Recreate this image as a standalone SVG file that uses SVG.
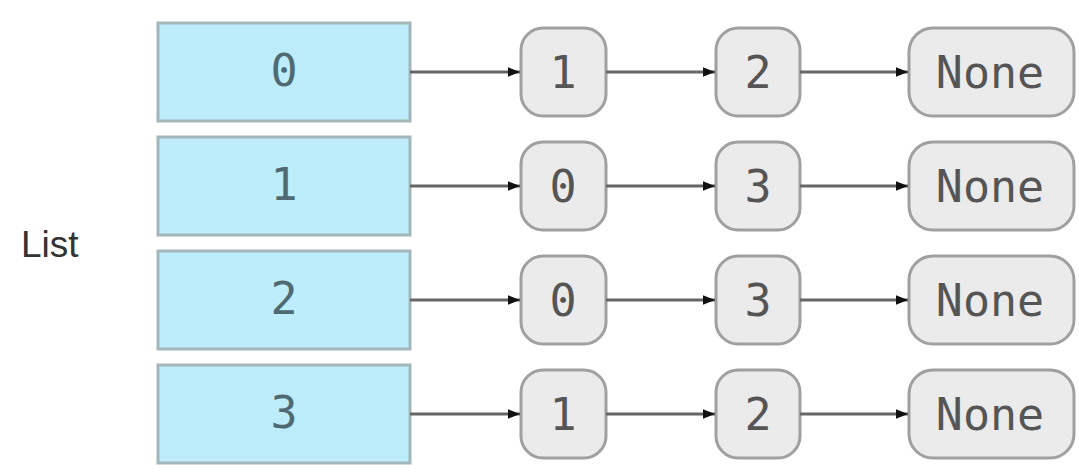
<svg xmlns="http://www.w3.org/2000/svg" width="1079" height="472" viewBox="0 0 1079 472">
<style>
.slot{fill:#bdedfb;stroke:#a3b6ba;stroke-width:3}
.node{fill:#ebebeb;stroke:#a0a0a0;stroke-width:3}
.st{font-family:"DejaVu Sans Mono",monospace;font-size:45px;fill:#4f6a72;text-anchor:middle;dominant-baseline:central}
.nt{font-family:"DejaVu Sans Mono",monospace;font-size:45px;fill:#555;text-anchor:middle;dominant-baseline:central}
.lbl{font-family:"Liberation Sans",Arial,sans-serif;font-size:37px;fill:#333}
.edge{stroke:#666;stroke-width:3;fill:none}
</style>
<defs>
<marker id="ah" viewBox="0 0 10 10" refX="10" refY="5" markerWidth="5" markerHeight="4" orient="auto" markerUnits="strokeWidth"><path d="M0,1 L10,5 L0,9 z" fill="#111"/></marker>
</defs>
<text class="lbl" x="21" y="257">List</text>
<g id="slot0"><rect class="slot" x="158" y="23" width="252" height="98"/><text class="st" x="284" y="70">0</text></g>
<g id="slot1"><rect class="slot" x="158" y="137" width="252" height="98"/><text class="st" x="284" y="184">1</text></g>
<g id="slot2"><rect class="slot" x="158" y="251" width="252" height="98"/><text class="st" x="284" y="298">2</text></g>
<g id="slot3"><rect class="slot" x="158" y="365" width="252" height="98"/><text class="st" x="284" y="412">3</text></g>
<g id="n0a"><rect class="node" x="521" y="28" width="85" height="88" rx="22"/><text class="nt" x="563" y="72">1</text></g>
<g id="n0b"><rect class="node" x="716" y="28" width="84" height="88" rx="22"/><text class="nt" x="758" y="72">2</text></g>
<g id="n0c"><rect class="node" x="909" y="28" width="165" height="88" rx="24"/><text class="nt" x="990" y="72">None</text></g>
<g id="n1a"><rect class="node" x="521" y="142" width="85" height="88" rx="22"/><text class="nt" x="563" y="186">0</text></g>
<g id="n1b"><rect class="node" x="716" y="142" width="84" height="88" rx="22"/><text class="nt" x="758" y="186">3</text></g>
<g id="n1c"><rect class="node" x="909" y="142" width="165" height="88" rx="24"/><text class="nt" x="990" y="186">None</text></g>
<g id="n2a"><rect class="node" x="521" y="256" width="85" height="88" rx="22"/><text class="nt" x="563" y="300">0</text></g>
<g id="n2b"><rect class="node" x="716" y="256" width="84" height="88" rx="22"/><text class="nt" x="758" y="300">3</text></g>
<g id="n2c"><rect class="node" x="909" y="256" width="165" height="88" rx="24"/><text class="nt" x="990" y="300">None</text></g>
<g id="n3a"><rect class="node" x="521" y="370" width="85" height="88" rx="22"/><text class="nt" x="563" y="414">1</text></g>
<g id="n3b"><rect class="node" x="716" y="370" width="84" height="88" rx="22"/><text class="nt" x="758" y="414">2</text></g>
<g id="n3c"><rect class="node" x="909" y="370" width="165" height="88" rx="24"/><text class="nt" x="990" y="414">None</text></g>
<g id="connectors">
<path class="edge" d="M410,72 H520" marker-end="url(#ah)"/>
<path class="edge" d="M606,72 H715" marker-end="url(#ah)"/>
<path class="edge" d="M800,72 H908" marker-end="url(#ah)"/>
<path class="edge" d="M410,186 H520" marker-end="url(#ah)"/>
<path class="edge" d="M606,186 H715" marker-end="url(#ah)"/>
<path class="edge" d="M800,186 H908" marker-end="url(#ah)"/>
<path class="edge" d="M410,300 H520" marker-end="url(#ah)"/>
<path class="edge" d="M606,300 H715" marker-end="url(#ah)"/>
<path class="edge" d="M800,300 H908" marker-end="url(#ah)"/>
<path class="edge" d="M410,414 H520" marker-end="url(#ah)"/>
<path class="edge" d="M606,414 H715" marker-end="url(#ah)"/>
<path class="edge" d="M800,414 H908" marker-end="url(#ah)"/>
</g>
</svg>
